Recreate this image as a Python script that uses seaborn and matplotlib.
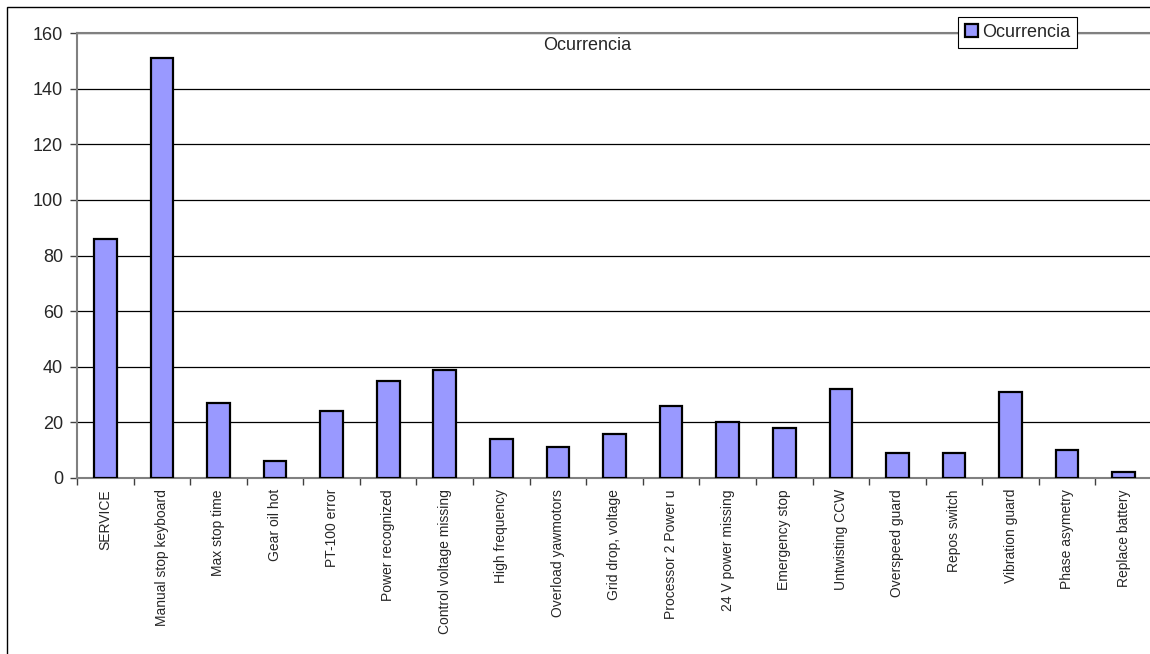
import matplotlib
matplotlib.use("Agg")
import matplotlib.pyplot as plt
import matplotlib.patches as mpatches
import seaborn as sns
import pandas as pd

causes = ["SERVICE", "Manual stop keyboard", "Max stop time", "Gear oil hot",
          "PT-100 error", "Power recognized", "Control voltage missing",
          "High frequency", "Overload yawmotors", "Grid drop, voltage",
          "Processor 2 Power u", "24 V power missing", "Emergency stop",
          "Untwisting CCW", "Overspeed guard", "Repos switch",
          "Vibration guard", "Phase asymetry", "Replace battery"]
ocurrencia = [86, 151, 27, 6, 24, 35, 39, 14, 11, 16, 26, 20, 18, 32, 9, 9, 31, 10, 2]
yticks = [0, 20, 40, 60, 80, 100, 120, 140, 160]

sns.set_style("white")
plt.rcParams['font.family'] = ['Liberation Sans', 'DejaVu Sans']

W, H = 1150, 654
fig = plt.figure(figsize=(W / 100, H / 100), dpi=100)
ax = fig.add_axes([77 / W, 1 - 478 / H, (1152 - 77) / W, (478 - 33) / H])

df = pd.DataFrame({"causa": causes, "ocurrencia": ocurrencia})
sns.barplot(data=df, x="causa", y="ocurrencia", color="#9999FF", saturation=1,
            width=0.4, edgecolor="black", linewidth=1.6, label="Ocurrencia",
            ax=ax, zorder=3)

ax.set_xlim(-0.5, len(causes) - 0.5)
ax.set_ylim(0, 160)
ax.set_yticks(yticks)
ax.set_yticklabels([str(v) for v in yticks], fontsize=13)
ax.yaxis.grid(True, color="black", linewidth=0.9)
ax.set_axisbelow(True)
ax.set_xlabel("")
ax.set_ylabel("")

# category labels, ticks between categories
ax.set_xticks(range(len(causes)))
ax.set_xticklabels(causes, rotation=90, fontsize=10)
ax.set_xticks([i - 0.5 for i in range(len(causes) + 1)], minor=True)
ax.tick_params(axis="x", which="major", length=0, pad=8)
ax.tick_params(axis="x", which="minor", length=5, width=1, color="#404040", direction="out", bottom=True)
ax.tick_params(axis="y", length=5, width=1, color="#404040", direction="out", left=True, pad=5)

for side in ["left", "bottom", "top"]:
    ax.spines[side].set_visible(True)
    ax.spines[side].set_color("#808080")
    ax.spines[side].set_linewidth(1.5)
ax.spines["right"].set_visible(False)

fig.text(587 / W, 1 - 45 / H, "Ocurrencia", ha="center", va="center", fontsize=13)

leg = ax.legend(loc="upper left", bbox_to_anchor=(958 / W, 1 - 17 / H),
                bbox_transform=fig.transFigure, fontsize=13, fancybox=False,
                framealpha=1, edgecolor="black", handlelength=0.7,
                handleheight=0.7, handletextpad=0.25, borderpad=0.38,
                borderaxespad=0)
leg.get_frame().set_linewidth(0.8)
for h in leg.legend_handles:
    h.set_linewidth(1.6)

# chart area border
fig.patches.append(mpatches.Rectangle((7 / W, -0.1), 2, 1.1 - 7 / H, fill=False,
                                      edgecolor="black", linewidth=1,
                                      transform=fig.transFigure, figure=fig))

fig.savefig("out.png", dpi=100)
